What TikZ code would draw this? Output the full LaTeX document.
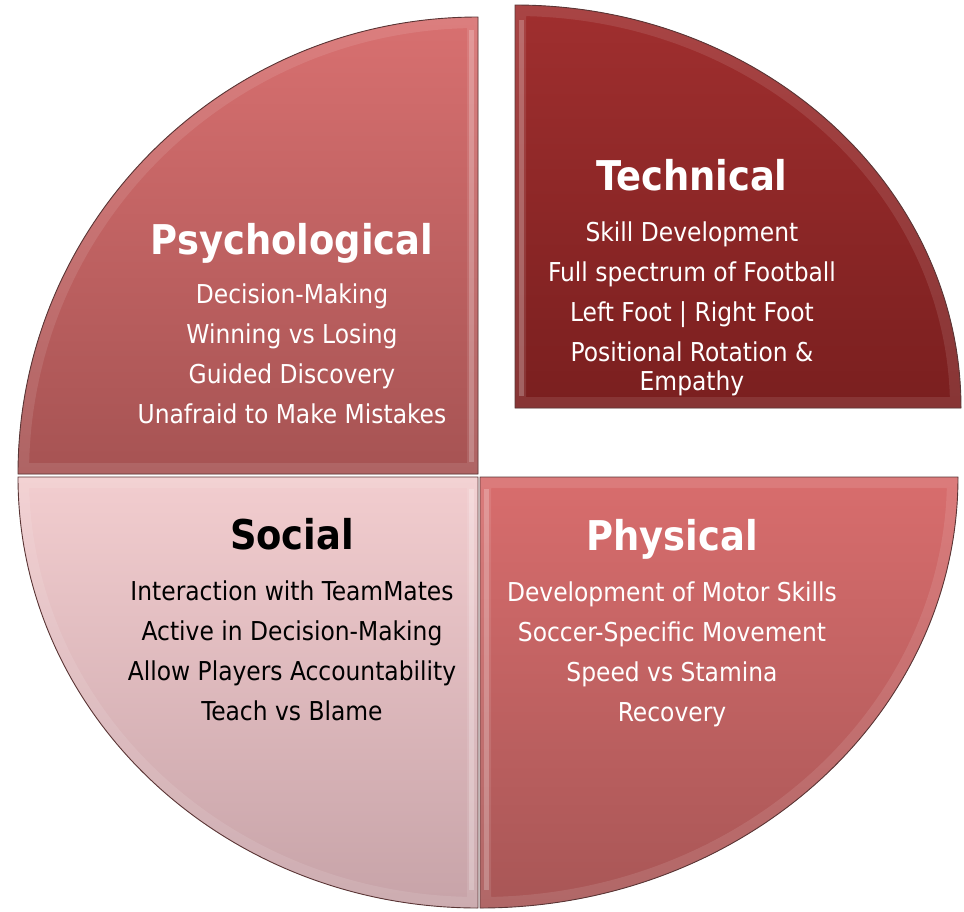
\documentclass[tikz,border=0pt]{standalone}
\usepackage{fontspec}
\setmainfont{DejaVu Sans Condensed}[BoldFont={DejaVu Sans Condensed Bold}]

\definecolor{psyTop}{HTML}{D87070}
\definecolor{psyBot}{HTML}{A65353}
\definecolor{tecTop}{HTML}{A02F2F}
\definecolor{tecBot}{HTML}{7A1F1F}
\definecolor{socTop}{HTML}{F2CDCF}
\definecolor{socBot}{HTML}{C7A3A8}
\definecolor{phyTop}{HTML}{D86D6D}
\definecolor{phyBot}{HTML}{A85656}
\definecolor{rim}{HTML}{5A3535}

\begin{document}
\begin{tikzpicture}[x=1pt,y=-1pt,
  psyq/.style={insert path={(478,474) -- (18,474) arc[start angle=180,end angle=270,x radius=460,y radius=457] -- cycle}},
  tecq/.style={insert path={(515,408) -- (515,5) arc[start angle=270,end angle=360,x radius=446,y radius=403] -- cycle}},
  phyq/.style={insert path={(480,477) -- (958,477) arc[start angle=0,end angle=90,x radius=478,y radius=431] -- cycle}},
  socq/.style={insert path={(478,477) -- (478,908) arc[start angle=90,end angle=180,x radius=460,y radius=431] -- cycle}},
  body/.style={anchor=base, inner sep=0pt, font=\fontsize{26}{30}\selectfont},
  heading/.style={anchor=base, inner sep=0pt, font=\fontsize{41}{48}\selectfont\bfseries},
  highlight/.style={white, opacity=0.22}]
\useasboundingbox (0,0) rectangle (964,911);

% one bevelled quadrant: #1 shape, #2/#3 shading colours, #4 vertical edge strip
\newcommand\bevelquad[4]{%
  \fill[#1, black, opacity=0.07, xshift=4pt, yshift=-4pt];
  \fill[#1, black, opacity=0.10, xshift=2.5pt, yshift=-2.5pt];
  \fill[#1, black, opacity=0.14, xshift=1.2pt, yshift=-1.2pt];
  \shade[#1, top color=#2, bottom color=#3];
  \begin{scope}
    \clip[#1];
    \draw[#1, line width=22pt, white, opacity=0.10];
    \fill[highlight] #4;
  \end{scope}
  \draw[#1, rim, line width=0.9pt];
}

\bevelquad{psyq}{psyTop}{psyBot}{(469,30) rectangle (474,462)}
\bevelquad{tecq}{tecTop}{tecBot}{(519,20) rectangle (524,396)}
\bevelquad{phyq}{phyTop}{phyBot}{(484,489) rectangle (489,890)}
\bevelquad{socq}{socTop}{socBot}{(469,489) rectangle (474,890)}

% Psychological
\node[heading, white] (psyT) at (292,254) {Psychological};
\foreach [count=\i] \t in {Decision-Making, Winning vs Losing, Guided Discovery, Unafraid to Make Mistakes}
  \node[body, white] (psy\i) at (292,263+40*\i) {\t};

% Technical
\node[heading, white] (tecT) at (692,190) {Technical};
\foreach [count=\i] \t in {Skill Development, Full spectrum of Football, Left Foot | Right Foot, Positional Rotation \&}
  \node[body, white] (tec\i) at (692,201+40*\i) {\t};
\node[body, white] (tec5) at (692,390) {Empathy};

% Social
\node[heading, black] (socT) at (292,549) {Social};
\foreach [count=\i] \t in {Interaction with TeamMates, Active in Decision-Making, Allow Players Accountability, Teach vs Blame}
  \node[body, black] (soc\i) at (292,560+40*\i) {\t};

% Physical
\node[heading, white] (phyT) at (672,550) {Physical};
\foreach [count=\i] \t in {Development of Motor Skills, Soccer-Specific Movement, Speed vs Stamina, Recovery}
  \node[body, white] (phy\i) at (672,561+40*\i) {\t};
\end{tikzpicture}
\end{document}
